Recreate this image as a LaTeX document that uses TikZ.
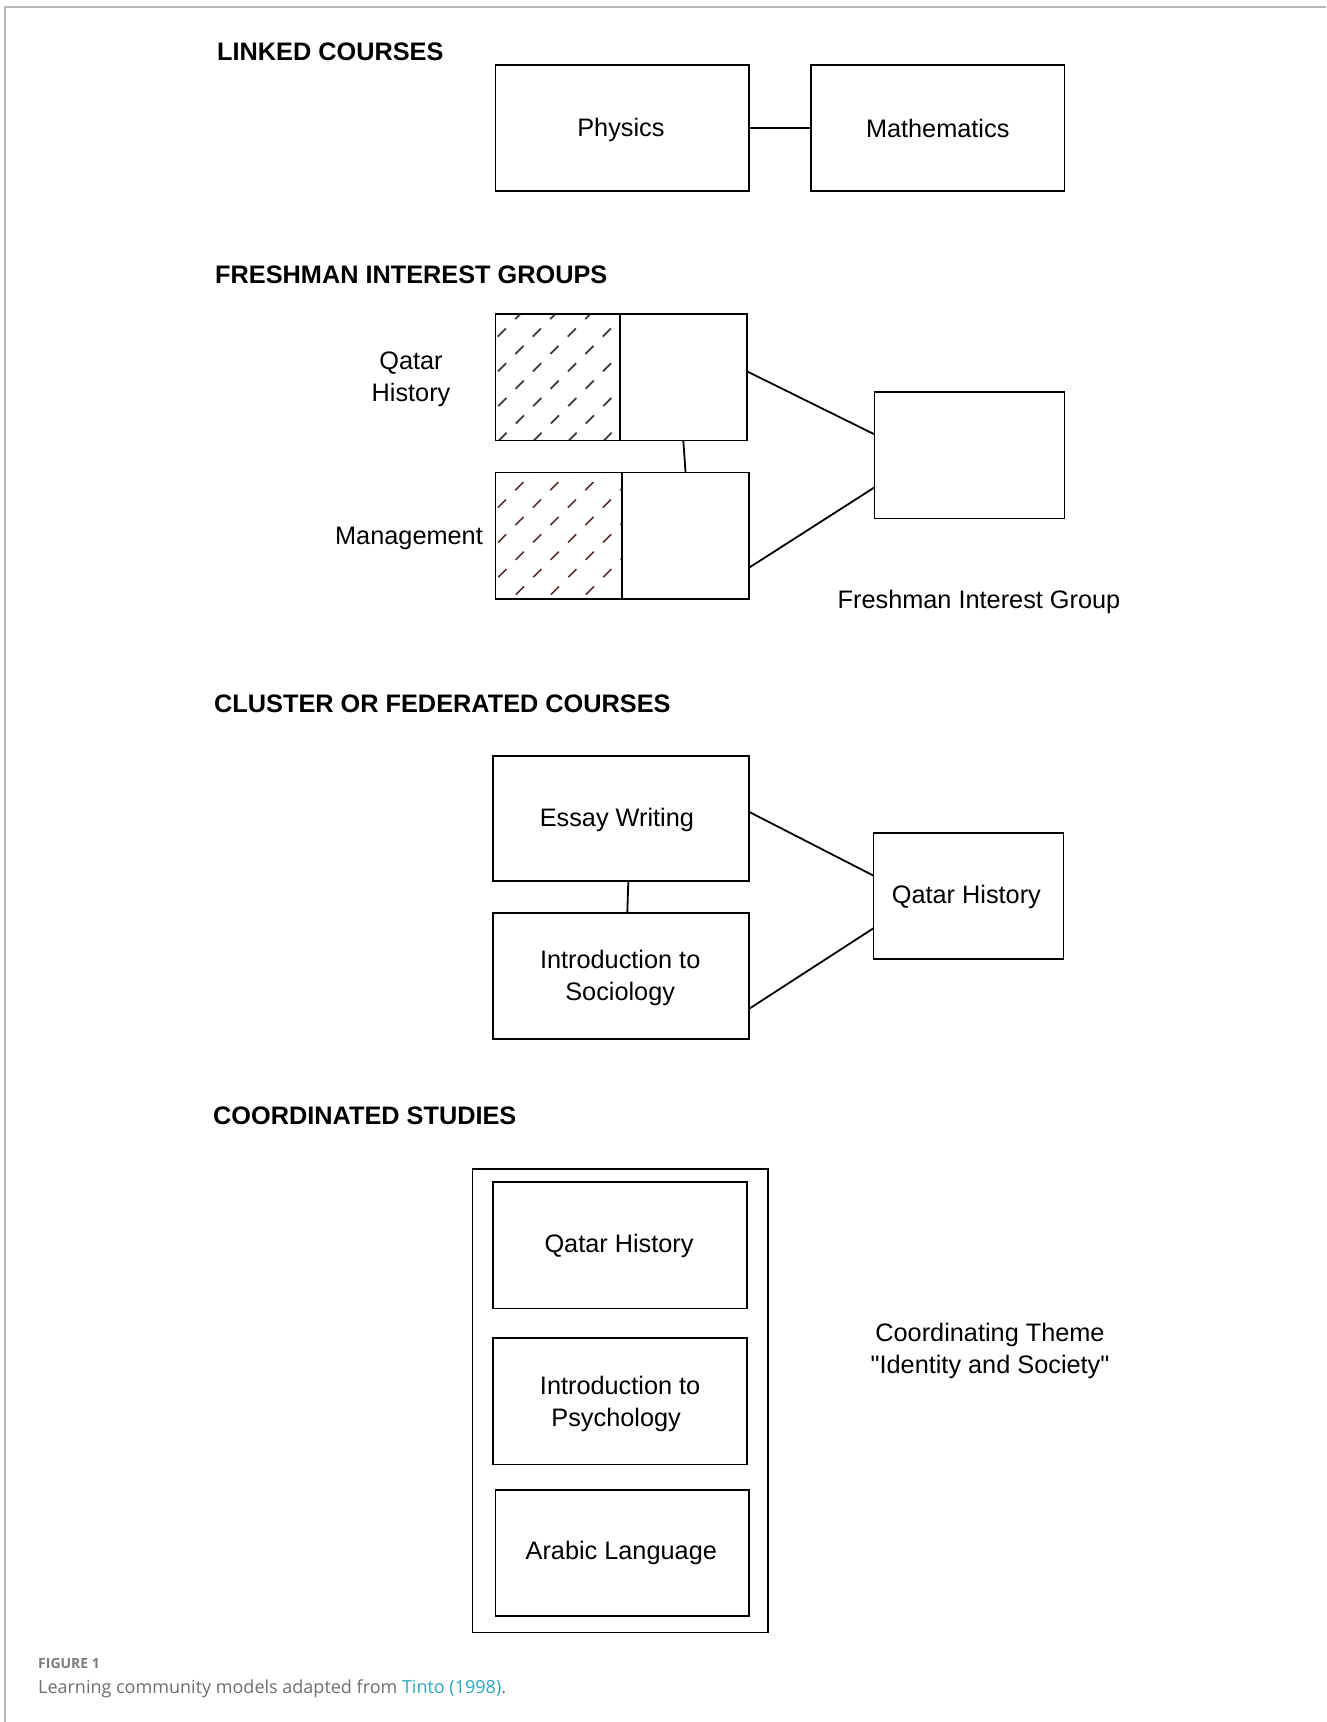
\documentclass[tikz,border=0pt]{standalone}
\usepackage{fontspec}
\setmainfont{Liberation Sans}
\newfontfamily\capfont{Open Sans}
\newcommand\sqmark{{\XeTeXglyph\XeTeXcharglyph"22\relax}}
\definecolor{hatchgray}{HTML}{3A3A3A}
\definecolor{hatchred}{HTML}{5A3030}
\definecolor{capgray}{HTML}{6E6E6E}
\definecolor{figgray}{HTML}{7C7C7C}
\definecolor{linkteal}{HTML}{2AA7C0}
\definecolor{framegray}{HTML}{B8B8B8}
\begin{document}
\begin{tikzpicture}[x=1pt,y=-1pt,
  box/.style={draw=black, line width=1.8pt, inner sep=0pt, outer sep=0pt},
  heading/.style={font=\bfseries\fontsize{25.3}{30}\selectfont, anchor=base west, inner sep=0pt},
  lbl/.style={font=\fontsize{25.3}{32}\selectfont, align=center, inner sep=0pt},
  link/.style={line width=1.8pt},
  hatchline/.style={line width=1.7pt, dash pattern=on 11.5pt off 13.1pt}]
\useasboundingbox (0,0) rectangle (1326,1722);
\fill[white] (0,0) rectangle (1326,1722);
\draw[framegray, line width=1.5pt] (5,1722) -- (5,7) -- (1326,7);

% ---------- LINKED COURSES ----------
\node[heading] (h1) at (217,60) {LINKED COURSES};
\node[box, minimum width=253.8pt, minimum height=126.4pt,
  label={[lbl, yshift=-2.2pt, xshift=-1.5pt]center:Physics}] (phys) at (622.4,128) {};
\node[box, minimum width=253.7pt, minimum height=126.4pt,
  label={[lbl]center:Mathematics}] (math) at (937.7,128) {};
\draw[link] (phys) -- (math);

% ---------- FRESHMAN INTEREST GROUPS ----------
\node[heading] (h2) at (215,283.5) {FRESHMAN INTEREST GROUPS};
\begin{scope}
  \clip (495.5,314.2) rectangle (619.6,440.5);
  \foreach \i in {0,...,9} \draw[hatchline, hatchgray] (341+35*\i,458.3) -- ++(180,-180);
\end{scope}
\begin{scope}
  \clip (495.5,472.4) rectangle (621.8,598.7);
  \foreach \i in {0,...,9} \draw[hatchline, hatchred] (358.5+35*\i,612) -- ++(180,-180);
\end{scope}
\node[box, minimum width=124.1pt, minimum height=126.3pt] (qhL) at (557.55,377.35) {};
\node[box, minimum width=127.4pt, minimum height=126.3pt] (qhR) at (683.3,377.35) {};
\node[box, minimum width=126.3pt, minimum height=126.3pt] (mgL) at (558.65,535.55) {};
\node[box, minimum width=127.5pt, minimum height=126.3pt] (mgR) at (685.55,535.55) {};
\node[box, minimum width=190pt, minimum height=126.3pt] (fig) at (969.5,455.35) {};
\draw[link] (qhR.south) -- (mgR.north);
\draw[link] ([yshift=6pt]qhR.east) -- ([yshift=21pt]fig.west);
\draw[link] ([yshift=-32pt]mgR.east) -- ([yshift=-32pt]fig.west);
\node[lbl] (lqh) at (411,379.2) {Qatar\\History};
\node[lbl] (lmg) at (409,538.2) {Management};
\node[lbl] (lfig) at (979,602.2) {Freshman Interest Group};

% ---------- CLUSTER OR FEDERATED COURSES ----------
\node[heading] (h3) at (214,712) {CLUSTER OR FEDERATED COURSES};
\node[box, minimum width=256pt, minimum height=125.3pt,
  label={[lbl, yshift=-1.1pt, xshift=-4.4pt]center:Essay Writing}] (essay) at (621.3,818.45) {};
\node[box, minimum width=256pt, minimum height=126.3pt,
  label={[lbl, yshift=-2.2pt, xshift=-1.1pt]center:{Introduction to\\Sociology}}] (soc) at (621.3,976.15) {};
\node[box, minimum width=190pt, minimum height=126.4pt,
  label={[lbl, yshift=-1.1pt, xshift=-2pt]center:Qatar History}] (qh2) at (968.4,895.9) {};
\draw[link] ([xshift=7pt]essay.south) -- ([xshift=6pt]soc.north);
\draw[link] ([yshift=6.5pt]essay.east) -- ([yshift=20.3pt]qh2.west);
\draw[link] ([yshift=-32.5pt]soc.east) -- ([yshift=-32.4pt]qh2.west);

% ---------- COORDINATED STUDIES ----------
\node[heading] (h4) at (213,1124) {COORDINATED STUDIES};
\node[box, minimum width=295.5pt, minimum height=463.6pt] (outer) at (620.15,1400.7) {};
\node[box, minimum width=253.7pt, minimum height=126.3pt,
  label={[lbl, yshift=-1.1pt, xshift=-1.1pt]center:Qatar History}] (cq) at (620.15,1245.25) {};
\node[box, minimum width=253.7pt, minimum height=126.3pt,
  label={[lbl, yshift=-2.2pt]center:{Introduction to\\Psychology\hspace*{8pt}}}] (cp) at (620.15,1401.25) {};
\node[box, minimum width=253.8pt, minimum height=126.3pt,
  label={[lbl, xshift=-1.1pt]center:Arabic Language}] (ca) at (622.4,1552.85) {};
\node[lbl] (theme) at (990,1350.7) {Coordinating Theme\\\sqmark Identity and Society\sqmark};

% ---------- caption ----------
\node[anchor=base west, inner sep=0pt, text=figgray, font=\capfont\bfseries\fontsize{14}{16}\selectfont] (cap1) at (38,1668) {FIGURE 1};
\node[anchor=base west, inner sep=0pt, text=capgray, font=\capfont\fontsize{18}{22}\selectfont] (cap2) at (38,1693) {Learning community models adapted from \textcolor{linkteal}{Tinto (1998)}.};
\end{tikzpicture}
\end{document}
